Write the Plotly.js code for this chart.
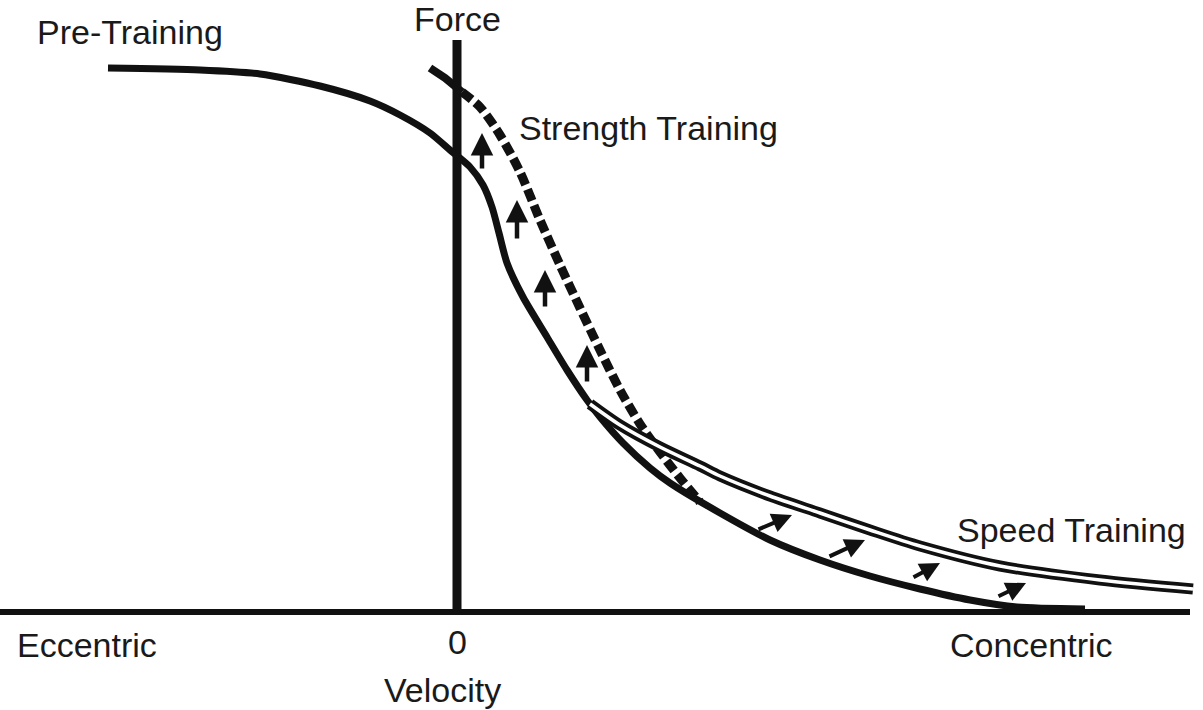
<!DOCTYPE html>
<html>
<head>
<meta charset="utf-8">
<script src="https://cdn.plot.ly/plotly-3.0.1.min.js"></script>
<style>html,body{margin:0;padding:0;background:#fff;}#chart{width:1203px;height:710px;}</style>
</head>
<body>
<div id="chart"></div>
<script>
// Force-velocity curves (velocity: 0 = isometric, negative = eccentric; force: arbitrary units)
const preVel   = [-349,-257,-197,-137,-87,-57,-27,-7,13,26,35,42,50,66,90,110,130,143,166,193,213,263,313,363,413,463,513,560,628];
const preForce = [544,542,538,526,511,497,479,462,445,427,405,379,349,315,275,242,212,195,169,144,129,99,72,52,36,23,12,5,3];

const strSolidVel   = [-27,-12,5];
const strSolidForce = [544,534,520];
const strVel   = [5,23,43,63,83,103,123,143,163,183,203,223,243];
const strForce = [520,505,477,440,392,347,304,262,222,188,160,134,110];

const spdVel   = [133,163,203,243,263,313,363,413,463,543,643,736];
const spdForce = [208,187,165,146,136,116,99,82,66,46,32,23];

// Shift arrows: [velocity, force from, force to]
const strArrowVel  = [25,60,88,130];
const strArrowFrom = [442,372,304,229];
const strArrowTo   = [479,412,342,267];
// Speed arrows: tail (vel, force) -> head (vel, force)
const spdArrowVel0   = [300,371,455,540];
const spdArrowForce0 = [82,55,34,15];
const spdArrowVel1   = [335,408,483,569];
const spdArrowForce1 = [97,72,49,29];

const forceAxisTop = 572;
const velAxisMin = -457, velAxisMax = 733;

const labels = ["Pre-Training","Force","Strength Training","Speed Training","Eccentric","0","Concentric","Velocity"];

const FONT = {family:"Liberation Sans, Arial, sans-serif", size:34, color:"#1a1a1a"};
const INK = "#111";

const traces = [
  {x:[0,0], y:[0,forceAxisTop], mode:"lines", line:{color:INK,width:9}, hoverinfo:"skip"},
  {x:[velAxisMin,velAxisMax], y:[0,0], mode:"lines", line:{color:INK,width:6}, hoverinfo:"skip"},
  {x:preVel, y:preForce, mode:"lines", line:{color:INK,width:7,shape:"spline",smoothing:0.7}, name:"Pre-Training"},
  {x:strSolidVel, y:strSolidForce, mode:"lines", line:{color:INK,width:8}, hoverinfo:"skip"},
  {x:strVel, y:strForce, mode:"lines", line:{color:INK,width:9,dash:"12px,5px",shape:"spline",smoothing:0.8}, name:"Strength Training"},
  {x:spdVel, y:spdForce, mode:"lines", line:{color:INK,width:11,shape:"spline",smoothing:0.8}, name:"Speed Training"},
  {x:spdVel, y:spdForce, mode:"lines", line:{color:"#fff",width:3.5,shape:"spline",smoothing:0.8}, hoverinfo:"skip"}
];

const annotations = [];
strArrowVel.forEach((v,i)=>{
  annotations.push({x:v, y:strArrowTo[i], ax:v, ay:strArrowFrom[i], xref:"x", yref:"y", axref:"x", ayref:"y",
    showarrow:true, arrowhead:2, arrowsize:1, arrowwidth:4.5, arrowcolor:INK, text:""});
});
spdArrowVel0.forEach((v,i)=>{
  annotations.push({x:spdArrowVel1[i], y:spdArrowForce1[i], ax:v, ay:spdArrowForce0[i], xref:"x", yref:"y", axref:"x", ayref:"y",
    showarrow:true, arrowhead:2, arrowsize:1, arrowwidth:4, arrowcolor:INK, text:""});
});
const labelPos = [
  {x:-327,y:580,xanchor:"center"},
  {x:0,y:593,xanchor:"center"},
  {x:60,y:484,xanchor:"left"},
  {x:731,y:82,xanchor:"right"},
  {x:-442,y:-33,xanchor:"left"},
  {x:0,y:-30,xanchor:"center"},
  {x:491,y:-33,xanchor:"left"},
  {x:-15,y:-78,xanchor:"center"}
];
labels.forEach((t,i)=>{
  annotations.push(Object.assign({text:t, xref:"x", yref:"y", yanchor:"middle", showarrow:false, font:FONT}, labelPos[i]));
});

const layout = {
  width:1203, height:710,
  margin:{l:0,r:0,t:0,b:0},
  paper_bgcolor:"#fff", plot_bgcolor:"#fff",
  showlegend:false,
  xaxis:{range:[-457,746], visible:false, fixedrange:true},
  yaxis:{range:[-98,612], visible:false, fixedrange:true},
  annotations:annotations
};

Plotly.newPlot("chart", traces, layout, {staticPlot:true, displayModeBar:false});
</script>
</body>
</html>
